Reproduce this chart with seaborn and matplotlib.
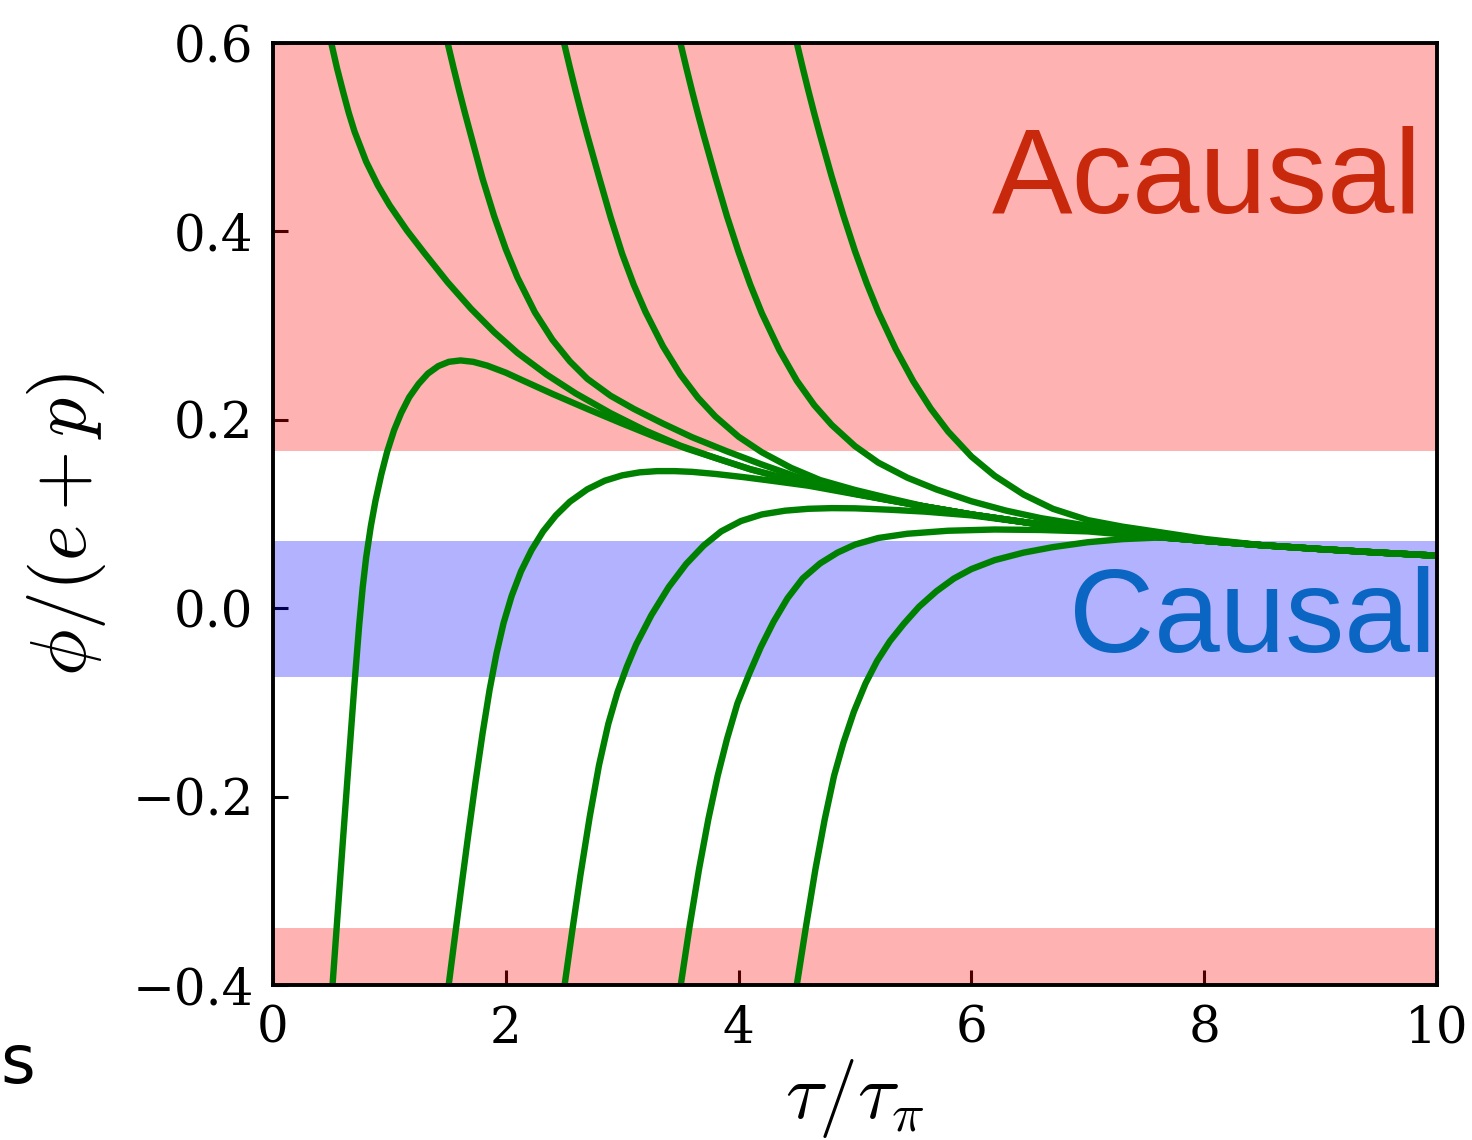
import matplotlib
matplotlib.use("Agg")
import matplotlib.pyplot as plt
import numpy as np
import pandas as pd
import seaborn as sns

# shared late-time tail (all curves collapse onto it)
tail_tau = [5.5, 6.0, 6.5, 7.0, 7.5, 8.0, 8.5, 9.0, 9.5, 10.0]
tail_phi = [0.110, 0.0995, 0.0905, 0.083, 0.0765, 0.0715, 0.0668, 0.0627, 0.0590, 0.0557]

# curves starting above (decaying from large phi)
d1_tau = [0.5, 0.55, 0.6, 0.65, 0.7, 0.8, 0.9, 1.0, 1.15, 1.3, 1.5, 1.7, 1.9, 2.1, 2.35, 2.6, 2.9, 3.2,
          3.5, 3.8, 4.1, 4.5, 5.0]
d1_phi = [0.600, 0.573, 0.549, 0.526, 0.506, 0.474, 0.449, 0.428, 0.401, 0.377, 0.346, 0.318, 0.293, 0.271,
          0.248, 0.228, 0.207, 0.1885, 0.1725, 0.1595, 0.1475, 0.1345, 0.1215]

d2_tau = [1.5, 1.55, 1.6, 1.65, 1.7, 1.8, 1.9, 2.0, 2.1, 2.25, 2.4, 2.55, 2.7, 2.9, 3.1, 3.35, 3.6, 3.9,
          4.2, 4.5, 5.0]
d2_phi = [0.600, 0.574, 0.549, 0.525, 0.502, 0.456, 0.416, 0.381, 0.351, 0.314, 0.285, 0.262, 0.2435, 0.2255,
          0.2115, 0.196, 0.1815, 0.1665, 0.1525, 0.1395, 0.1235]

d3_tau = [2.5, 2.55, 2.6, 2.65, 2.7, 2.8, 2.9, 3.0, 3.1, 3.2, 3.35, 3.5, 3.65, 3.8, 4.0, 4.2, 4.45, 4.7,
          5.0, 5.3, 5.6]
d3_phi = [0.600, 0.574, 0.549, 0.525, 0.502, 0.458, 0.415, 0.376, 0.343, 0.3145, 0.278, 0.248, 0.2235, 0.2035,
          0.182, 0.1655, 0.149, 0.136, 0.1255, 0.1165, 0.108]

d4_tau = [3.5, 3.55, 3.6, 3.65, 3.7, 3.8, 3.9, 4.0, 4.1, 4.2, 4.35, 4.5, 4.65, 4.8, 5.0, 5.2, 5.45, 5.7,
          6.0, 6.3, 6.6, 7.0, 7.5, 8.0]
d4_phi = [0.600, 0.574, 0.549, 0.525, 0.502, 0.458, 0.416, 0.378, 0.3435, 0.313, 0.274, 0.2415, 0.2155, 0.1945,
          0.172, 0.1545, 0.1385, 0.126, 0.1135, 0.1035, 0.0955, 0.0875, 0.0795, 0.0725]

d5_tau = [4.5, 4.55, 4.6, 4.65, 4.7, 4.8, 4.9, 5.0, 5.1, 5.2, 5.35, 5.5, 5.65, 5.8, 6.0, 6.2, 6.45, 6.7,
          7.0, 7.3, 7.6, 8.0]
d5_phi = [0.600, 0.574, 0.549, 0.525, 0.502, 0.458, 0.417, 0.379, 0.345, 0.3145, 0.275, 0.241, 0.212, 0.1875,
          0.161, 0.1405, 0.1205, 0.1055, 0.0935, 0.0865, 0.081, 0.0735]

# curves starting below (rising from negative phi)
a1_tau = [0.511, 0.55, 0.6, 0.65, 0.7, 0.74, 0.77, 0.8, 0.84, 0.88, 0.93, 0.98, 1.04, 1.1, 1.17, 1.25,
          1.33, 1.42, 1.51, 1.61, 1.72, 1.84, 2.0, 2.15, 2.4, 2.7, 3.0, 3.3, 3.55, 3.8, 4.1, 4.5, 5.0]
a1_phi = [-0.400, -0.333, -0.247, -0.163, -0.080, -0.018, 0.022, 0.054, 0.087, 0.114, 0.142, 0.166, 0.189,
          0.207, 0.224, 0.238, 0.249, 0.257, 0.2615, 0.263, 0.2615, 0.2575, 0.250, 0.2415, 0.2275, 0.2115,
          0.196, 0.181, 0.1695, 0.1595, 0.1475, 0.1345, 0.1215]

a2_tau = [1.509, 1.56, 1.62, 1.68, 1.74, 1.8, 1.86, 1.92, 1.98, 2.05, 2.13, 2.22, 2.32, 2.43, 2.55, 2.7,
          2.85, 3.0, 3.15, 3.3, 3.45, 3.6, 3.8, 4.05, 4.3, 4.6, 5.0]
a2_phi = [-0.400, -0.351, -0.294, -0.238, -0.184, -0.133, -0.087, -0.048, -0.016, 0.013, 0.039, 0.0615,
          0.0815, 0.0985, 0.113, 0.1262, 0.1353, 0.141, 0.1442, 0.1455, 0.1455, 0.1447, 0.1425, 0.139,
          0.135, 0.130, 0.121]

a3_tau = [2.505, 2.57, 2.64, 2.72, 2.8, 2.88, 2.96, 3.04, 3.12, 3.25, 3.4, 3.55, 3.7, 3.85, 4.02, 4.2,
          4.4, 4.6, 4.8, 5.0, 5.3, 5.6, 6.0]
a3_phi = [-0.400, -0.343, -0.284, -0.222, -0.167, -0.123, -0.089, -0.062, -0.0385, -0.0075, 0.0225, 0.047,
          0.0665, 0.0815, 0.0925, 0.0995, 0.1035, 0.1055, 0.1062, 0.106, 0.1045, 0.1025, 0.0985]

a4_tau = [3.503, 3.58, 3.66, 3.74, 3.82, 3.9, 3.99, 4.09, 4.19, 4.3, 4.42, 4.55, 4.7, 4.85, 5.0, 5.2,
          5.45, 5.8, 6.2, 6.6, 7.0, 7.5]
a4_phi = [-0.400, -0.337, -0.277, -0.224, -0.178, -0.139, -0.101, -0.070, -0.0415, -0.0145, 0.0105, 0.0315,
          0.0475, 0.059, 0.0675, 0.0745, 0.079, 0.0822, 0.0835, 0.083, 0.0815, 0.0762]

a5_tau = [4.5, 4.58, 4.66, 4.74, 4.82, 4.9, 4.99, 5.09, 5.19, 5.3, 5.42, 5.55, 5.7, 5.85, 6.0, 6.2,
          6.45, 6.7, 7.0, 7.3, 7.65]
a5_phi = [-0.400, -0.337, -0.277, -0.224, -0.178, -0.143, -0.110, -0.080, -0.056, -0.035, -0.0165, 0.0015,
          0.018, 0.0315, 0.0415, 0.051, 0.059, 0.0648, 0.070, 0.0733, 0.0752]

# band limits
acausal_low = -0.34
acausal_high = 0.167
causal_low = -0.073
causal_high = 0.0713


def build_frame():
    heads = {
        "d1": (d1_tau, d1_phi), "d2": (d2_tau, d2_phi), "d3": (d3_tau, d3_phi),
        "d4": (d4_tau, d4_phi), "d5": (d5_tau, d5_phi),
        "a1": (a1_tau, a1_phi), "a2": (a2_tau, a2_phi), "a3": (a3_tau, a3_phi),
        "a4": (a4_tau, a4_phi), "a5": (a5_tau, a5_phi),
    }
    frames = []
    for name, (t, p) in heads.items():
        t = list(t)
        p = list(p)
        for tt, pp in zip(tail_tau, tail_phi):
            if tt > t[-1] + 1e-6:
                t.append(tt)
                p.append(pp)
        frames.append(pd.DataFrame({"tau": t, "phi": p, "curve": name}))
    return pd.concat(frames, ignore_index=True)


def main():
    sns.set_style("ticks")
    plt.rcParams["font.family"] = ["DejaVu Serif"]
    plt.rcParams["mathtext.fontset"] = "cm"
    for key in ["text.color", "axes.labelcolor", "xtick.color", "ytick.color", "axes.edgecolor"]:
        plt.rcParams[key] = "black"

    df = build_frame()

    fig = plt.figure(figsize=(7.36, 5.70), dpi=200)
    ax = fig.add_axes([0.1855, 0.1360, 0.7907, 0.8263])

    ax.axhspan(acausal_high, 0.7, color="red", alpha=0.3, lw=0)
    ax.axhspan(-0.5, acausal_low, color="red", alpha=0.3, lw=0)
    ax.axhspan(causal_low, causal_high, color="blue", alpha=0.3, lw=0)

    sns.lineplot(data=df, x="tau", y="phi", units="curve", estimator=None,
                 sort=False, color="green", lw=2.3, ax=ax)

    ax.set_xlim(0, 10)
    ax.set_ylim(-0.4, 0.6)
    ax.set_xticks([0, 2, 4, 6, 8, 10])
    ax.set_yticks([-0.4, -0.2, 0.0, 0.2, 0.4, 0.6])
    ax.tick_params(direction="in", length=5.5, width=1.1, labelsize=18, pad=7,
                   top=False, right=False)
    for sp in ax.spines.values():
        sp.set_linewidth(1.4)

    ax.set_xlabel(r"$\tau/\tau_{\pi}$", fontsize=28, labelpad=1)
    ax.set_ylabel(r"$\phi/(e+p)$", fontsize=28)
    ax.yaxis.set_label_coords(-0.142, 0.489)

    ax.text(9.87, 0.4195, "Acausal", color="#c8290c", fontsize=43.5,
            family="Liberation Sans", ha="right", va="baseline")
    ax.text(9.99, -0.047, "Causal", color="#0a66c2", fontsize=42.5,
            family="Liberation Sans", ha="right", va="baseline")

    fig.text(0.0, 0.05, "s", fontsize=24, family="DejaVu Sans", ha="left", va="baseline")

    fig.savefig("out.png", dpi=200)


if __name__ == "__main__":
    main()
